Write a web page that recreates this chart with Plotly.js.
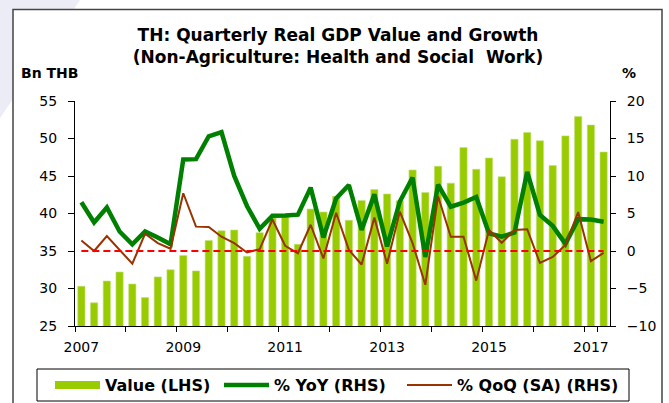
<!DOCTYPE html>
<html>
<head>
<meta charset="utf-8">
<script src="https://cdn.plot.ly/plotly-3.0.1.min.js"></script>
<style>html,body{margin:0;padding:0;background:#fff;}#chart{width:669px;height:403px;}</style>
</head>
<body>
<div id="chart"></div>
<script>
// ---- data ----
const quarters = ["2007Q1","2007Q2","2007Q3","2007Q4","2008Q1","2008Q2","2008Q3","2008Q4",
  "2009Q1","2009Q2","2009Q3","2009Q4","2010Q1","2010Q2","2010Q3","2010Q4",
  "2011Q1","2011Q2","2011Q3","2011Q4","2012Q1","2012Q2","2012Q3","2012Q4",
  "2013Q1","2013Q2","2013Q3","2013Q4","2014Q1","2014Q2","2014Q3","2014Q4",
  "2015Q1","2015Q2","2015Q3","2015Q4","2016Q1","2016Q2","2016Q3","2016Q4",
  "2017Q1","2017Q2"];
const valueBn = [30.3, 28.1, 31.0, 32.2, 30.6, 28.8, 31.55, 32.5,
  34.4, 32.35, 36.4, 37.7, 37.8, 34.3, 37.45, 39.4,
  39.7, 35.9, 40.6, 40.2, 42.3, 39.1, 41.75, 43.2,
  42.6, 41.7, 45.8, 42.8, 46.3, 44.05, 48.8, 45.9,
  47.4, 44.9, 49.9, 50.8, 49.7, 46.4, 50.35, 52.95,
  51.8, 48.2];
const yoyPct = [6.5, 3.8, 5.8, 2.6, 0.9, 2.6, 1.8, 0.9,
  12.2, 12.25, 15.3, 15.85, 10.0, 6.0, 2.95, 4.7,
  4.75, 4.85, 8.45, 1.8, 7.0, 8.8, 2.8, 7.55,
  0.6, 6.6, 9.8, -0.8, 8.85, 5.9, 6.45, 7.2,
  2.35, 1.9, 2.45, 10.55, 4.8, 3.35, 0.95, 4.25,
  4.2, 3.9];
const qoqPct = [1.4, 0.0, 2.0, 0.2, -1.7, 2.3, 1.05, 0.3,
  7.7, 3.25, 3.2, 1.9, 1.05, -0.2, 0.25, 4.2,
  0.7, -0.3, 3.5, -1.0, 5.1, 0.15, -1.8, 4.45,
  -1.7, 5.25, 1.05, -4.5, 7.3, 1.9, 1.9, -3.95,
  2.8, 1.1, 2.8, 2.9, -1.6, -0.8, 0.8, 5.2,
  -1.35, -0.25];
const yearTickVals = ["2007Q1","2008Q1","2009Q1","2010Q1","2011Q1","2012Q1","2013Q1","2014Q1","2015Q1","2016Q1","2017Q1"];
const yearTickText = ["2007","","2009","","2011","","2013","","2015","","2017"];
const seriesNames = ["Value (LHS)", "% YoY (RHS)", "% QoQ (SA) (RHS)"];

// ---- layout helpers (pixel -> paper) ----
const W = 669, H = 403, ML = 75, MR = 59, MT = 101, MB = 77;
const PW = W - ML - MR, PH = H - MT - MB;
const fx = p => (p - ML) / PW;
const fy = p => (H - MB - p) / PH;
const FONT = "DejaVu Sans";

const data = [
  {type: "bar", x: quarters, y: valueBn, name: seriesNames[0], yaxis: "y",
   marker: {color: "#99CC00", line: {color: "#C2E07A", width: 0.6}}, showlegend: false, hoverinfo: "skip"},
  {type: "scatter", mode: "lines", x: [null], y: [null], name: seriesNames[0],
   line: {color: "#99CC00", width: 8}, showlegend: true, legendwidth: 109},
  {type: "scatter", mode: "lines", x: quarters, y: yoyPct, name: seriesNames[1], yaxis: "y2",
   line: {color: "#008000", width: 4.5}, legendwidth: 123},
  {type: "scatter", mode: "lines", x: quarters, y: qoqPct, name: seriesNames[2], yaxis: "y2",
   line: {color: "#993300", width: 2}, legendwidth: 160}
];

const axisCommon = {
  showline: true, linecolor: "#000", linewidth: 1, showgrid: false, zeroline: false,
  ticks: "outside", tickcolor: "#000", tickwidth: 1,
  tickfont: {family: FONT, size: 14, color: "#000"}
};

const layout = {
  width: W, height: H,
  margin: {l: ML, r: MR, t: MT, b: MB, pad: 0, autoexpand: false},
  paper_bgcolor: "#ffffff", plot_bgcolor: "rgba(0,0,0,0)",
  font: {family: FONT, color: "#000"},
  bargap: 0.43,
  title: {
    text: "TH: Quarterly Real GDP Value and Growth<br>(Non-Agriculture: Health and Social\u00A0 Work)",
    font: {family: FONT, size: 17, weight: "bold", color: "#000"},
    xref: "paper", x: fx(338), xanchor: "center",
    yref: "container", y: 1 - 41 / H, yanchor: "top"
  },
  xaxis: Object.assign({}, axisCommon, {
    type: "category", range: [-0.5, quarters.length - 0.5],
    tickmode: "array", tickvals: yearTickVals, ticktext: yearTickText,
    tickson: "boundaries", ticklen: 5, ticklabelstandoff: 8, tickangle: 0
  }),
  yaxis: Object.assign({}, axisCommon, {
    range: [25, 55], tick0: 25, dtick: 5, ticklen: 6, ticklabelstandoff: 8
  }),
  yaxis2: Object.assign({}, axisCommon, {
    overlaying: "y", side: "right", range: [-10, 20], tick0: -10, dtick: 5,
    ticklen: 5, ticklabelstandoff: 8
  }),
  legend: {
    orientation: "h", x: fx(50), xanchor: "left", y: fy(385), yanchor: "middle",
    bgcolor: "rgba(0,0,0,0)", borderwidth: 0, itemwidth: 45,
    font: {family: FONT, size: 16, weight: "bold", color: "#000"}
  },
  annotations: [
    {text: "Bn THB", xref: "paper", yref: "paper", x: fx(49), y: fy(73), xanchor: "center", yanchor: "middle",
     showarrow: false, font: {family: FONT, size: 14, weight: "bold", color: "#000"}},
    {text: "%", xref: "paper", yref: "paper", x: fx(629), y: fy(73), xanchor: "center", yanchor: "middle",
     showarrow: false, font: {family: FONT, size: 14, weight: "bold", color: "#000"}}
  ],
  shapes: [
    {type: "path", xref: "paper", yref: "paper", layer: "below",
     path: `M ${fx(0)},${fy(0)} L ${fx(80)},${fy(0)} L ${fx(0)},${fy(118)} Z`,
     fillcolor: "#ECECF6", line: {width: 0}},
    {type: "rect", xref: "paper", yref: "paper", layer: "below",
     x0: fx(13), x1: fx(662), y0: fy(420), y1: fy(9.5),
     fillcolor: "#ffffff", line: {color: "#444", width: 1.5}},
    {type: "rect", xref: "paper", yref: "paper", layer: "below",
     x0: fx(37), x1: fx(629), y0: fy(401), y1: fy(369),
     fillcolor: "#ffffff", line: {color: "#000", width: 1}},
    {type: "line", xref: "x", yref: "y2", layer: "above",
     x0: quarters[0], x1: quarters[quarters.length - 1], y0: 0, y1: 0,
     line: {color: "#FF0000", width: 2, dash: "7px,4px"}}
  ]
};

Plotly.newPlot("chart", data, layout, {staticPlot: true, displayModeBar: false});
</script>
</body>
</html>
